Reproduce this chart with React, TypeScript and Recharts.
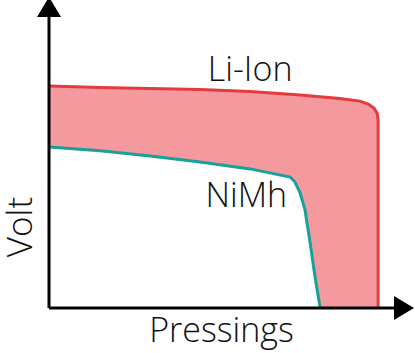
import { ComposedChart, Area, XAxis, YAxis, ReferenceDot, Label } from "recharts";

// pressings (0-100) vs volt (0-100)
const liIonX = [0, 14.8, 29.3, 43.8, 58.3, 72.8, 84.3, 90.1, 92.5, 94.2, 95.1, 95.4, 95.4];
const liIonY = [76.3, 75.8, 75.4, 75.1, 74.4, 73.2, 72.0, 71.1, 70.1, 68.7, 67.0, 64.6, 0];

const nimhX = [0, 14.8, 29.3, 43.8, 58.3, 69.9, 71.3, 72.8, 74.2, 75.7, 77.1, 78.6];
const nimhY = [55.3, 54.0, 52.2, 50.2, 47.8, 45.0, 43.3, 39.5, 33.7, 22.3, 10.7, 0];

const liIon = liIonX.map((x, i) => ({ x, v: liIonY[i] }));
const nimh = nimhX.map((x, i) => ({ x, v: nimhY[i] }));

const FONT = "'Open Sans', sans-serif";

const SeriesLabel = (text: string) => (props: any) => {
  const vb = props.viewBox;
  return (
    <text
      x={vb.x + vb.width / 2}
      y={vb.y + vb.height / 2}
      textAnchor="middle"
      fontFamily={FONT}
      fontWeight={300}
      fontSize={34}
      fill="#111"
    >
      {text}
    </text>
  );
};

export default function App() {
  return (
    <div style={{ position: "absolute", left: 0, top: 0, background: "#fff" }}>
      <style>{"body{margin:0}"}</style>
      <ComposedChart width={415} height={353} margin={{ top: 17, right: 21, bottom: 0, left: 0 }}>
        <defs>
          <marker
            id="arrowHead"
            viewBox="0 0 20 24"
            refX={0}
            refY={12}
            markerWidth={20}
            markerHeight={24}
            markerUnits="userSpaceOnUse"
            orient="auto-start-reverse"
          >
            <path d="M0,0 L20,12 L0,24 Z" fill="#000" />
          </marker>
        </defs>
        <XAxis
          type="number"
          dataKey="x"
          domain={[0, 100]}
          height={45}
          tick={false}
          tickLine={false}
          axisLine={{ stroke: "#000", strokeWidth: 3, markerEnd: "url(#arrowHead)" }}
        >
          <Label
            content={(p: any) => (
              <text
                x={p.viewBox.x + p.viewBox.width / 2}
                y={p.viewBox.y + 34}
                textAnchor="middle"
                fontFamily={FONT}
                fontWeight={300}
                fontSize={34}
                fill="#111"
              >
                Pressings
              </text>
            )}
          />
        </XAxis>
        <YAxis
          type="number"
          domain={[0, 100]}
          width={49}
          tick={false}
          tickLine={false}
          axisLine={{ stroke: "#000", strokeWidth: 3, markerStart: "url(#arrowHead)" }}
        >
          <Label
            content={() => (
              <text
                x={32}
                y={227}
                transform="rotate(-90 32 227)"
                textAnchor="middle"
                fontFamily={FONT}
                fontWeight={300}
                fontSize={35}
                fill="#111"
              >
                Volt
              </text>
            )}
          />
        </YAxis>
        <Area
          data={liIon}
          dataKey="v"
          type="linear"
          stroke="#e53a3e"
          strokeWidth={3}
          fill="#f4999e"
          fillOpacity={1}
          isAnimationActive={false}
        />
        <Area
          data={nimh}
          dataKey="v"
          type="linear"
          stroke="#16a19a"
          strokeWidth={3}
          fill="#ffffff"
          fillOpacity={1}
          isAnimationActive={false}
        />
        <ReferenceDot x={58.3} y={78} r={1} fill="none" stroke="none" label={SeriesLabel("Li-Ion")} />
        <ReferenceDot x={57.2} y={34.7} r={1} fill="none" stroke="none" label={SeriesLabel("NiMh")} />
      </ComposedChart>
    </div>
  );
}
